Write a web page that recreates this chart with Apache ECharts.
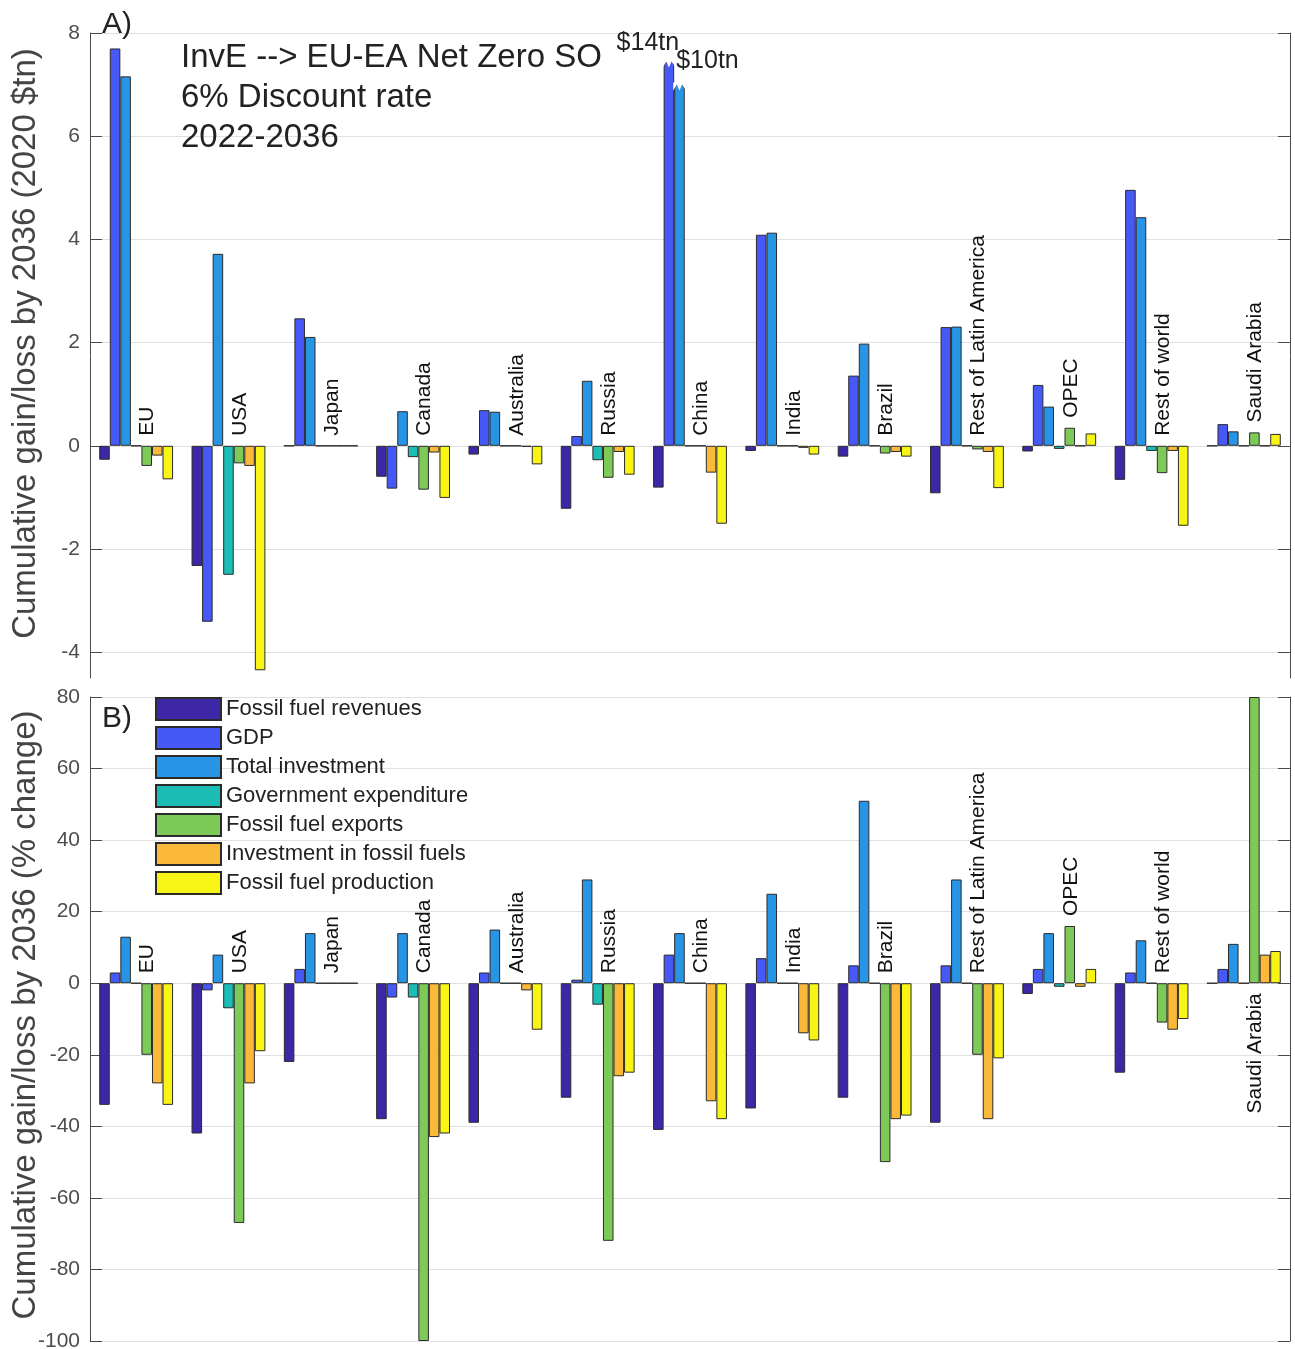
<!DOCTYPE html>
<html><head><meta charset="utf-8">
<script src="https://cdn.jsdelivr.net/npm/echarts@6/dist/echarts.min.js"></script>
<style>html,body{margin:0;padding:0;background:#fff}#c{width:1295px;height:1349px}</style>
</head><body><div id="c"></div><script>
// ---------- data ----------
const categories = ['EU','USA','Japan','Canada','Australia','Russia','China','India','Brazil','Rest of Latin America','OPEC','Rest of world','Saudi Arabia'];
const seriesNames = ['Fossil fuel revenues','GDP','Total investment','Government expenditure','Fossil fuel exports','Investment in fossil fuels','Fossil fuel production'];

// Panel A: cumulative gain/loss by 2036 (2020 $tn)
const ffRevTn   = [-0.27,-2.33, 0,   -0.60,-0.17,-1.22,-0.81,-0.10,-0.21,-0.92,-0.11,-0.66, 0];
const gdpTn     = [ 7.70,-3.41, 2.47,-0.83, 0.69, 0.19, 7.45, 4.09, 1.36, 2.30, 1.18, 4.96, 0.42];
const totInvTn  = [ 7.16, 3.72, 2.11, 0.67, 0.66, 1.26, 7.00, 4.13, 1.98, 2.31, 0.76, 4.43, 0.28];
const govExpTn  = [ 0,   -2.50, 0,   -0.22, 0,   -0.28, 0,    0,    0,    0,   -0.06,-0.10, 0];
const ffExpTn   = [-0.39,-0.34, 0,   -0.85, 0,   -0.62, 0,    0,   -0.15,-0.07, 0.35,-0.53, 0.26];
const invFFTn   = [-0.19,-0.39, 0,   -0.13,-0.02,-0.12,-0.52,-0.04,-0.12,-0.12, 0,   -0.10, 0];
const ffProdTn  = [-0.65,-4.35, 0,   -1.01,-0.36,-0.56,-1.51,-0.17,-0.21,-0.82, 0.24,-1.55, 0.23];
const chinaNotes = ['$14tn','$10tn']; // true (truncated) values of China GDP / Total investment

// Panel B: cumulative gain/loss by 2036 (% change)
const ffRevPct  = [-34,-42,-22,-38,-39,-32,-41,-35,-32,-39, -3,-25,  0];
const gdpPct    = [  3, -2,  4, -4,  3,  1,  8,  7,  5,  5,  4,  3,  4];
const totInvPct = [ 13,  8, 14, 14, 15, 29, 14, 25, 51, 29, 14, 12, 11];
const govExpPct = [  0, -7,  0, -4,  0, -6,  0,  0,  0,  0, -1,  0,  0];
const ffExpPct  = [-20,-67,  0,-100, 0,-72,  0,  0,-50,-20, 16,-11, 80];
const invFFPct  = [-28,-28,  0,-43, -2,-26,-33,-14,-38,-38, -1,-13,  8];
const ffProdPct = [-34,-19,  0,-42,-13,-25,-38,-16,-37,-21,  4,-10,  9];

const ticksA = [-4,-2,0,2,4,6,8];
const ticksB = [-100,-80,-60,-40,-20,0,20,40,60,80];

// ---------- style ----------
const FONT = '"Liberation Sans", Arial, Helvetica, sans-serif';
const colors = ['#3D27A7','#4658F6','#2894E6','#1BBDB4','#7ECA58','#FBB93A','#F8F516'];
const panelA = [ffRevTn,gdpTn,totInvTn,govExpTn,ffExpTn,invFFTn,ffProdTn];
const panelB = [ffRevPct,gdpPct,totInvPct,govExpPct,ffExpPct,invFFPct,ffProdPct];

function barSeries(gi, arrs){
  return arrs.map((arr,k)=>({
    type:'bar', name:seriesNames[k], xAxisIndex:gi, yAxisIndex:gi*2,
    barGap:'0%', barCategoryGap:'20%', z:2,
    itemStyle:{color:colors[k], borderColor:'#2b2b2b', borderWidth:1},
    emphasis:{disabled:true},
    data: arr.map((v,i)=>{
      if(gi===0 && i===6 && (k===1||k===2)){
        return {value:v, label:{show:true, formatter:chinaNotes[k-1], position:'top',
          offset: k===1?[-21,-1]:[28,-6], fontSize:25, color:'#222', fontFamily:FONT}};
      }
      return v;
    })
  }));
}

function labelSeries(gi, arrs, yMax){
  const data = categories.map((c,i)=>[i, Math.max(0, arrs[3][i], arrs[4][i], arrs[5][i], arrs[6][i])]);
  return {type:'custom', xAxisIndex:gi, yAxisIndex:gi*2, z:10, silent:true, clip:false, data,
    renderItem(params, api){
      const i = api.value(0), m = api.value(1);
      const below = m >= yMax*0.9;
      const p = api.coord([i, below?0:m]);
      return {type:'text', x:p[0]+1, y: below? p[1]+10 : p[1]-10, rotation:Math.PI/2,
        style:{text:categories[i], align: below?'right':'left', verticalAlign:'top',
          font:'21px '+FONT, fill:'#111'}};
    }};
}

const notchSeries = {type:'custom', xAxisIndex:0, yAxisIndex:0, z:5, silent:true, clip:false,
  data:[[6, gdpTn[6], 1],[6, totInvTn[6], 2]],
  renderItem(params, api){
    const cat = api.value(0), v = api.value(1), k = api.value(2);
    const p = api.coord([cat, v]);
    const cw = api.size([1,0])[0];
    const bw = cw*0.8/7;
    const left = p[0] + (k-3.5)*bw, right = left+bw, top = p[1], d = 6;
    return {type:'polygon', shape:{points:[[left-1,top-2],[left-1,top+d],[left+bw*0.25,top],[left+bw*0.5,top+d],[left+bw*0.75,top],[right+1.5,top+d],[right+1.5,top-2]]},
      style:{fill:'#fff'}};
  }};

function yAxes(gi, min, max, ticks, name, interval, shift){
  const base = {type:'value', gridIndex:gi, min, max,
    axisLine:{show:true, lineStyle:{color:'#4a4a4a', width:1}},
    axisTick:{show:true, inside:true, length:12, lineStyle:{color:'#4a4a4a'}},
    axisLabel:{show:true, fontSize:21, color:'#4d4d4d', fontFamily:FONT, margin:10},
    splitLine:{show:true, lineStyle:{color:'#e0e0e0', width:1}}};
  if(interval){ base.interval = interval; }
  else { base.axisTick.customValues = ticks; base.axisLabel.customValues = ticks; }
  const left = Object.assign({}, base, {position:'left', name, nameLocation:'middle', nameGap:48, nameRotate:90,
    nameMoveOverlap:false,
    nameTextStyle:{fontSize:33, color:'#444', fontFamily:FONT, padding:[0,0,0,shift]}});
  const right = Object.assign({}, base, {position:'right', axisLabel:Object.assign({}, base.axisLabel, {show:false}), splitLine:{show:false}});
  return [left, right];
}

const option = {
  animation:false,
  backgroundColor:'#fff',
  textStyle:{fontFamily:FONT},
  grid:[
    {left:90, right:5, top:33, bottom:671, containLabel:false, outerBoundsMode:'none'},
    {left:90, right:5, top:697, bottom:8, containLabel:false, outerBoundsMode:'none'}
  ],
  title:[
    {text:'A)', left:97, top:5, textStyle:{fontSize:30, fontWeight:'normal', color:'#222', fontFamily:FONT}},
    {text:'B)', left:97, top:699, textStyle:{fontSize:30, fontWeight:'normal', color:'#222', fontFamily:FONT}},
    {text:'InvE --> EU-EA Net Zero SO\n6% Discount rate\n2022-2036', left:176, top:33,
      textStyle:{fontSize:33, lineHeight:40, fontWeight:'normal', color:'#222', fontFamily:FONT}}
  ],
  legend:{show:true, orient:'vertical', left:155, top:697, padding:0, itemWidth:65, itemHeight:22, itemGap:5,
    icon:'rect', selectedMode:false, data:seriesNames,
    textStyle:{fontSize:22, color:'#222', fontFamily:FONT}},
  xAxis:[
    {type:'category', gridIndex:0, data:categories, axisLine:{show:false}, axisTick:{show:false}, axisLabel:{show:false}, splitLine:{show:false}},
    {type:'category', gridIndex:1, data:categories, axisLine:{show:false}, axisTick:{show:false}, axisLabel:{show:false}, splitLine:{show:false}}
  ],
  yAxis:[
    ...yAxes(0, -4.5, 8, ticksA, 'Cumulative gain/loss by 2036 (2020 $tn)', null, 24),
    ...yAxes(1, -100, 80, ticksB, 'Cumulative gain/loss by 2036 (% change)', 20, 8)
  ],
  series:[
    ...barSeries(0, panelA),
    ...barSeries(1, panelB),
    notchSeries,
    labelSeries(0, panelA, 8),
    labelSeries(1, panelB, 80)
  ]
};
const chart = echarts.init(document.getElementById('c'));
chart.setOption(option);
</script></body></html>
